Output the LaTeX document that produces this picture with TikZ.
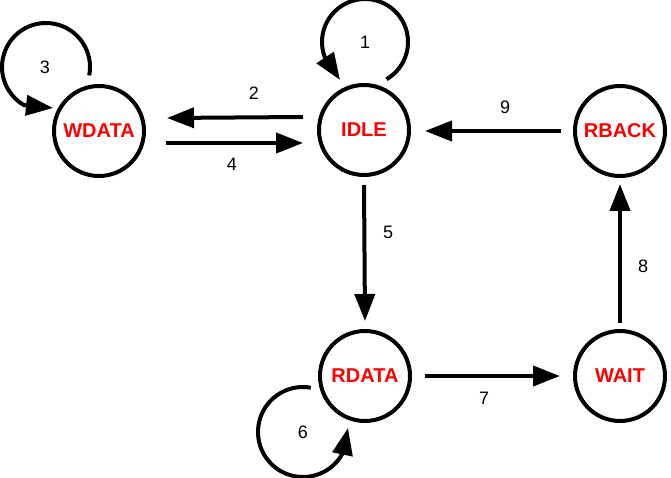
\documentclass[tikz,border=0pt]{standalone}
\usepackage{fontspec}
\setmainfont{Liberation Sans}
\usetikzlibrary{arrows.meta,calc}
\begin{document}
\begin{tikzpicture}[x=1pt,y=1pt,
  state/.style={circle,draw=black,line width=4pt,minimum size=90pt,inner sep=0pt,
    text=red,font=\fontsize{20}{24}\selectfont\bfseries},
  arr/.style={line width=4pt,-{Triangle[length=27pt,width=20pt]}},
  lbl/.style={font=\fontsize{18}{21}\selectfont,text=black}]
\useasboundingbox (0,0) rectangle (671,477);
\node[state] (wdata) at (99,346) {WDATA};
\node[state] (idle)  at (364,347) {IDLE};
\node[state] (rback) at (620,346) {RBACK};
\node[state] (rdata) at (365,101) {RDATA};
\node[state] (wait)  at (620,101) {WAIT};
% straight transitions
\draw[arr] ([xshift=-14pt,yshift=13pt]idle.west) -- ([xshift=21pt,yshift=13pt]wdata.east);
\draw[arr] ([xshift=20pt,yshift=-12pt]wdata.east) -- ([xshift=-14pt,yshift=-13pt]idle.west);
\draw[arr] ([xshift=-12pt]rback.west) -- ([xshift=14pt,yshift=-1pt]idle.east);
\draw[arr] ([yshift=-8pt]idle.south) -- ([yshift=8pt]rdata.north);
\draw[arr] ([yshift=6pt]wait.north) -- ([yshift=-6pt]rback.south);
\draw[arr] ([xshift=13pt]rdata.east) -- ([xshift=-13pt]wait.west);
% self loops
\coordinate (t1) at ($(idle)+(-24,50)$);
\coordinate (t3) at ($(wdata)+(-46,23)$);
\coordinate (t6) at ($(rdata)+(-17,-52)$);
\draw[arr] ($(idle)+(1,88)+(-60:43)$) arc[start angle=-60,end angle=200,radius=43] -- (t1);
\draw[arr] ($(wdata)+(-53,64)+(-11:44)$) arc[start angle=-11,end angle=240,radius=44] -- (t3);
\draw[arr] ($(rdata)+(-62,-56)+(80:45)$) arc[start angle=80,end angle=332,radius=45] -- (t6);
% labels
\node[lbl] (l1) at (365,435) {1};
\node[lbl] (l2) at (254,384) {2};
\node[lbl] (l3) at (45,410) {3};
\node[lbl] (l4) at (232,313) {4};
\node[lbl] (l5) at (388,245) {5};
\node[lbl] (l6) at (303,45) {6};
\node[lbl] (l7) at (484,79) {7};
\node[lbl] (l8) at (643,211) {8};
\node[lbl] (l9) at (505,370) {9};
\end{tikzpicture}
\end{document}
